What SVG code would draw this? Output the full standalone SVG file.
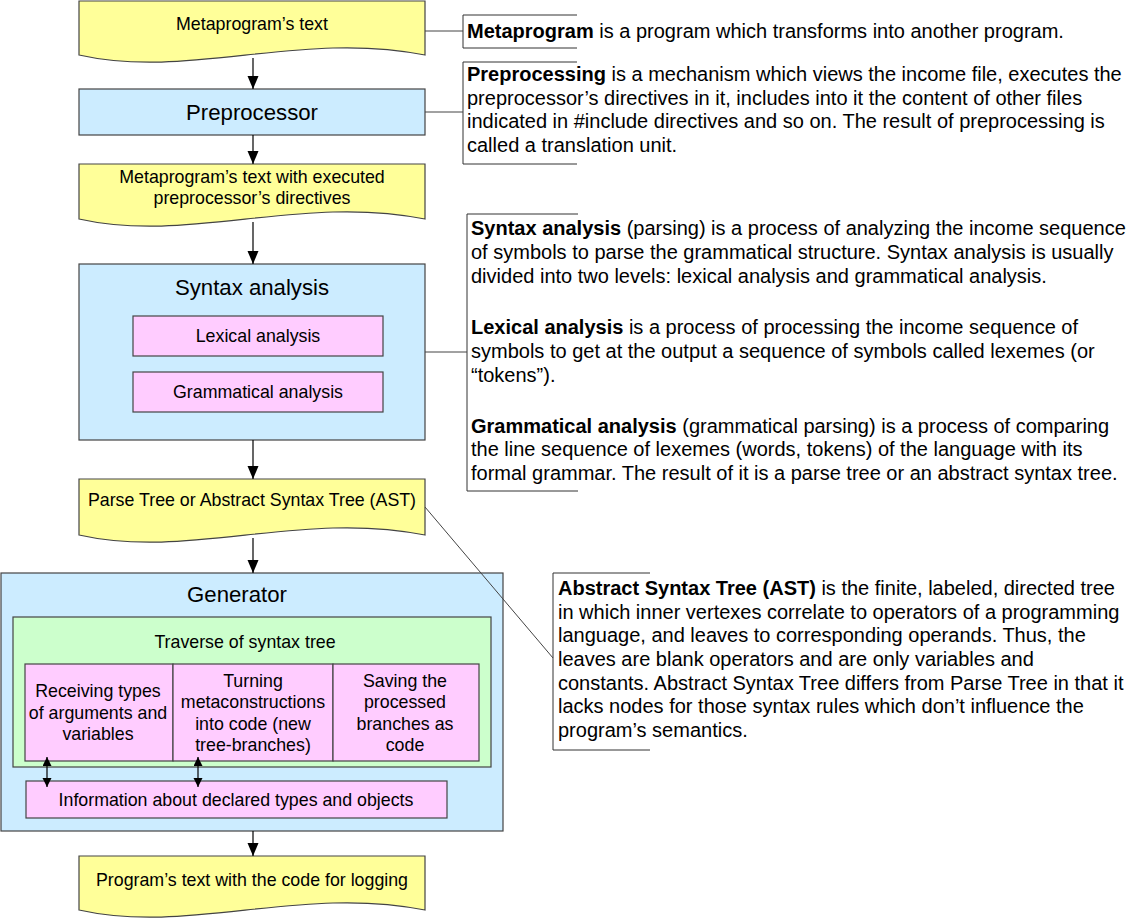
<svg xmlns="http://www.w3.org/2000/svg" width="1133" height="920" viewBox="0 0 1133 920">
<defs>
<style>
text{font-family:"Liberation Sans",Arial,sans-serif;fill:#000}
.n{font-size:17.8px;text-anchor:middle}
.t{font-size:22.2px;text-anchor:middle}
.a{font-size:20px}
.b{font-weight:bold}
.doc{fill:#FFFF99;stroke:#444;stroke-width:1.2}
.blue{fill:#CCECFF;stroke:#444;stroke-width:1.2}
.pink{fill:#FFCCFF;stroke:#444;stroke-width:1.2}
.green{fill:#CCFFCC;stroke:#444;stroke-width:1.2}
.br{fill:none;stroke:#333;stroke-width:1}
.ln{fill:none;stroke:#000;stroke-width:1.2}
.cn{fill:none;stroke:#444;stroke-width:1}
</style>
<marker id="ah" markerUnits="userSpaceOnUse" markerWidth="14" markerHeight="12" refX="13" refY="5.5" orient="auto"><path d="M0,0 L13,5.5 L0,11 Z" fill="#000"/></marker>
<marker id="sh" markerUnits="userSpaceOnUse" markerWidth="10" markerHeight="10" refX="9" refY="4.5" orient="auto-start-reverse"><path d="M0,0 L9,4.5 L0,9 Z" fill="#000"/></marker>
</defs>

<g id="doc-metaprogram">
<path class="doc" d="M79,1 H425 V55 C300,30 190,80 79,55 Z"/>
<text class="n" x="252" y="30">Metaprogram’s text</text>
</g>

<g id="preprocessor">
<rect class="blue" x="79" y="89" width="346" height="46"/>
<text class="t" x="252" y="120">Preprocessor</text>
</g>

<g id="doc-preprocessed">
<path class="doc" d="M79,164 H425 V219 C300,194 190,244 79,219 Z"/>
<text class="n" x="252" y="183">Metaprogram’s text with executed</text>
<text class="n" x="252" y="204">preprocessor’s directives</text>
</g>

<g id="syntax-analysis">
<rect class="blue" x="79" y="264" width="346" height="176"/>
<text class="t" x="252" y="295">Syntax analysis</text>
<g id="lexical-analysis">
<rect class="pink" x="133" y="316" width="250" height="40"/>
<text class="n" x="258" y="342">Lexical analysis</text>
</g>
<g id="grammatical-analysis">
<rect class="pink" x="133" y="372" width="250" height="40"/>
<text class="n" x="258" y="398">Grammatical analysis</text>
</g>
</g>

<g id="doc-ast">
<path class="doc" d="M79,479 H425 V535 C300,510 190,560 79,535 Z"/>
<text class="n" x="252" y="506">Parse Tree or Abstract Syntax Tree (AST)</text>
</g>

<g id="generator">
<rect class="blue" x="1" y="573" width="502" height="258"/>
<text class="t" x="237" y="602">Generator</text>
<g id="traverse">
<rect class="green" x="13" y="617" width="478" height="150"/>
<text class="n" x="245" y="647.5">Traverse of syntax tree</text>
<g id="receiving">
<rect class="pink" x="25" y="664" width="148" height="97"/>
<text class="n" x="98" y="697">Receiving types</text>
<text class="n" x="98" y="718.5">of arguments and</text>
<text class="n" x="98" y="740">variables</text>
</g>
<g id="turning">
<rect class="pink" x="173" y="664" width="160" height="97"/>
<text class="n" x="253" y="686.5">Turning</text>
<text class="n" x="253" y="708">metaconstructions</text>
<text class="n" x="253" y="729.5">into code (new</text>
<text class="n" x="253" y="751">tree-branches)</text>
</g>
<g id="saving">
<rect class="pink" x="333" y="664" width="146" height="97"/>
<text class="n" x="405" y="686.5">Saving the</text>
<text class="n" x="405" y="708">processed</text>
<text class="n" x="405" y="729.5">branches as</text>
<text class="n" x="405" y="751">code</text>
</g>
</g>
<g id="information">
<rect class="pink" x="26" y="781" width="421" height="37"/>
<text class="n" x="236" y="805.5">Information about declared types and objects</text>
</g>
</g>

<g id="doc-output">
<path class="doc" d="M79,856 H425 V910 C300,885 190,935 79,910 Z"/>
<text class="n" x="252" y="885.5">Program’s text with the code for logging</text>
</g>

<g id="note-metaprogram">
<path class="br" d="M577,15 H463 V48 H577"/>
<text class="a" x="467" y="38"><tspan class="b">Metaprogram</tspan> is a program which transforms into another program.</text>
</g>

<g id="note-preprocessing">
<path class="br" d="M577,62 H463 V164 H577"/>
<text class="a" x="467" y="81"><tspan class="b">Preprocessing</tspan> is a mechanism which views the income file, executes the</text>
<text class="a" x="467" y="104.5">preprocessor’s directives in it, includes into it the content of other files</text>
<text class="a" x="467" y="128">indicated in #include directives and so on. The result of preprocessing is</text>
<text class="a" x="467" y="151.5">called a translation unit.</text>
</g>

<g id="note-syntax">
<path class="br" d="M578,214 H467 V491 H578"/>
<text class="a" x="471" y="235"><tspan class="b">Syntax analysis</tspan> (parsing) is a process of analyzing the income sequence</text>
<text class="a" x="471" y="259">of symbols to parse the grammatical structure. Syntax analysis is usually</text>
<text class="a" x="471" y="283">divided into two levels: lexical analysis and grammatical analysis.</text>
<text class="a" x="471" y="334"><tspan class="b">Lexical analysis</tspan> is a process of processing the income sequence of</text>
<text class="a" x="471" y="358">symbols to get at the output a sequence of symbols called lexemes (or</text>
<text class="a" x="471" y="381.5">“tokens”).</text>
<text class="a" x="471" y="432.5"><tspan class="b">Grammatical analysis</tspan> (grammatical parsing) is a process of comparing</text>
<text class="a" x="471" y="456">the line sequence of lexemes (words, tokens) of the language with its</text>
<text class="a" x="471" y="480">formal grammar. The result of it is a parse tree or an abstract syntax tree.</text>
</g>

<g id="note-ast">
<path class="br" d="M650,573 H553 V750 H650"/>
<text class="a" x="558" y="595"><tspan class="b">Abstract Syntax Tree (AST)</tspan> is the finite, labeled, directed tree</text>
<text class="a" x="558" y="618.5">in which inner vertexes correlate to operators of a programming</text>
<text class="a" x="558" y="642">language, and leaves to corresponding operands. Thus, the</text>
<text class="a" x="558" y="666">leaves are blank operators and are only variables and</text>
<text class="a" x="558" y="689.5">constants. Abstract Syntax Tree differs from Parse Tree in that it</text>
<text class="a" x="558" y="713">lacks nodes for those syntax rules which don’t influence the</text>
<text class="a" x="558" y="737">program’s semantics.</text>
</g>

<g id="connectors">
<line class="ln" x1="253" y1="58" x2="253" y2="89" marker-end="url(#ah)"/>
<line class="ln" x1="253" y1="135" x2="253" y2="164" marker-end="url(#ah)"/>
<line class="ln" x1="253" y1="222" x2="253" y2="264" marker-end="url(#ah)"/>
<line class="ln" x1="253" y1="440" x2="253" y2="479" marker-end="url(#ah)"/>
<line class="ln" x1="253" y1="538" x2="253" y2="573" marker-end="url(#ah)"/>
<line class="ln" x1="253" y1="831" x2="253" y2="856" marker-end="url(#ah)"/>
<line class="ln" x1="47" y1="757" x2="47" y2="787" marker-start="url(#sh)" marker-end="url(#sh)"/>
<line class="ln" x1="198" y1="757" x2="198" y2="787" marker-start="url(#sh)" marker-end="url(#sh)"/>
<line class="cn" x1="425" y1="31" x2="463" y2="31"/>
<line class="cn" x1="425" y1="112" x2="463" y2="112"/>
<line class="cn" x1="425" y1="352" x2="467" y2="352"/>
<line class="cn" x1="425" y1="507" x2="553" y2="658"/>
</g>
</svg>
